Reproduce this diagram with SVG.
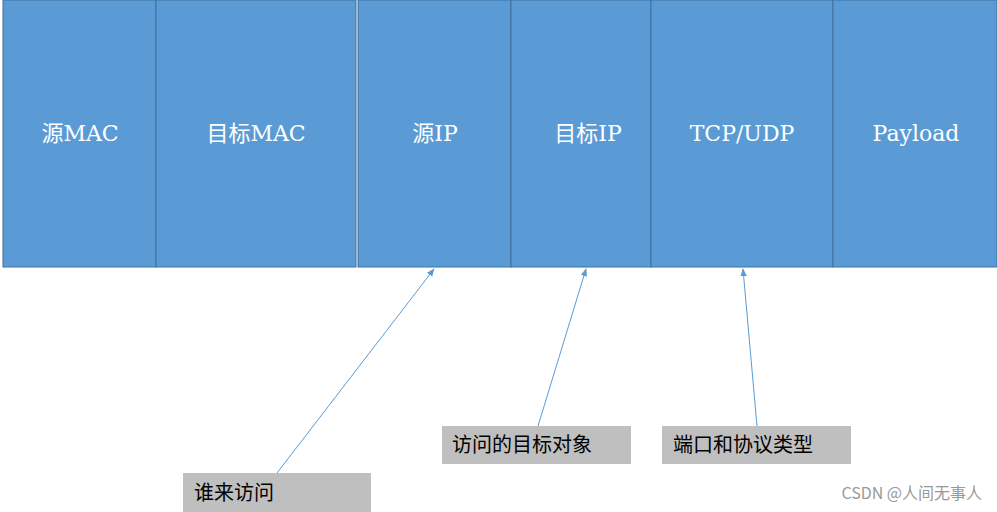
<svg xmlns="http://www.w3.org/2000/svg" width="997" height="512" viewBox="0 0 997 512">
<style>
.c{fill:#5b9bd5;stroke:#41719c;stroke-width:1}
.t{font-family:"DejaVu Serif","Noto Sans CJK SC",serif;font-size:22px;fill:#fff;text-anchor:middle}
.b{fill:#bfbfbf}
.l{font-family:"Noto Sans CJK SC",sans-serif;font-size:20px;fill:#000}
.a{stroke:#5b9bd5;stroke-width:1;fill:none;marker-end:url(#m)}
</style>
<defs><marker id="m" viewBox="0 0 10 10" refX="9" refY="5" markerWidth="8" markerHeight="8" orient="auto"><path d="M0,1 L10,5 L0,9 Z" fill="#5b9bd5"/></marker></defs>
<rect width="997" height="512" fill="#fff"/>
<g id="n1"><rect class="c" x="3" y="0" width="153" height="267"/><text class="t" x="80" y="141">源MAC</text></g>
<g id="n2"><rect class="c" x="156" y="0" width="200" height="267"/><text class="t" x="256" y="141">目标MAC</text></g>
<g id="n3"><rect class="c" x="358" y="0" width="153" height="267"/><text class="t" x="435" y="141">源IP</text></g>
<g id="n4"><rect class="c" x="511" y="0" width="140" height="267"/><text class="t" x="588" y="141">目标IP</text></g>
<g id="n5"><rect class="c" x="651" y="0" width="182" height="267"/><text class="t" x="742" y="141">TCP/UDP</text></g>
<g id="n6"><rect class="c" x="833" y="0" width="164" height="267"/><text class="t" x="916" y="141">Payload</text></g>
<g id="l1"><rect class="b" x="183" y="473" width="188" height="39"/><text class="l" x="194" y="500">谁来访问</text></g>
<g id="l2"><rect class="b" x="442" y="426" width="189" height="38"/><text class="l" x="452" y="452">访问的目标对象</text></g>
<g id="l3"><rect class="b" x="662" y="426" width="189" height="38"/><text class="l" x="673" y="452">端口和协议类型</text></g>
<g id="edges">
<line class="a" x1="277" y1="473" x2="434" y2="269"/>
<line class="a" x1="538" y1="426" x2="586" y2="269"/>
<line class="a" x1="757" y1="426" x2="743" y2="269"/>
</g>
<text x="982" y="499" text-anchor="end" font-family="'Noto Sans CJK SC',sans-serif" font-size="16" fill="#999">CSDN @人间无事人</text>
</svg>
